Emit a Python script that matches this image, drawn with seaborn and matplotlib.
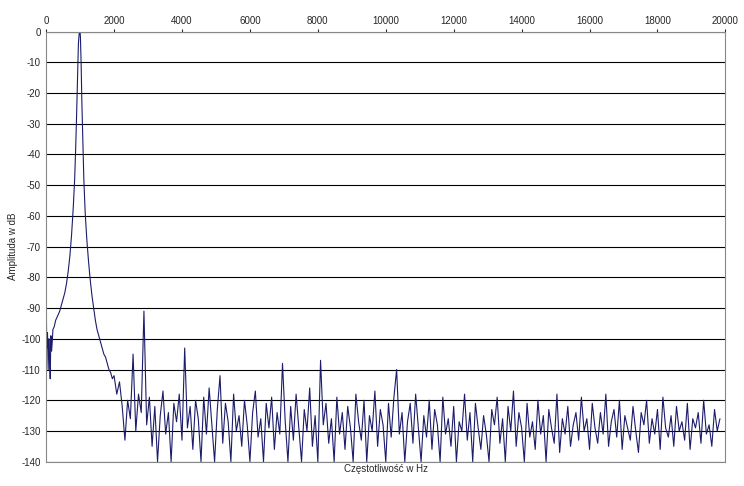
import numpy as np
import pandas as pd
import seaborn as sns
from matplotlib import pyplot as plt

# peak region
peak_freq = [0, 5, 10, 20, 40, 60, 80, 100, 120, 140, 160, 180, 200, 240, 280, 320, 360, 400,
             450, 500, 550, 600, 650, 700, 750, 800, 840, 870, 900, 930, 950, 970, 990, 1000,
             1010, 1030, 1050, 1080, 1110, 1150, 1200, 1250, 1300, 1350, 1400, 1450, 1500,
             1550, 1600, 1650, 1700, 1750, 1800, 1850, 1900, 1950]
peak_db = [-140, -60, -95, -103, -98, -110, -100, -106, -113, -99, -104, -101, -97, -96, -94,
           -93, -92, -91, -89, -87, -85, -82, -78, -73, -66, -57, -48, -38, -26, -12, -4, -1,
           0, 0, -2, -10, -22, -35, -48, -59, -68, -75, -81, -86, -90, -94, -97, -99, -101,
           -103, -105, -106, -108, -110, -111, -113]

# noise floor 2000..20000 Hz, 80 Hz steps
noise_db = [
    -112, -118, -114, -122, -133, -120, -126, -105, -130, -118, -124, -91, -128,
    -119, -135, -122, -140, -125, -117, -131, -124, -140, -121, -127, -118, -133,
    -103, -129, -122, -136, -120, -126, -140, -119, -131, -116, -128, -140, -123,
    -112, -134, -121, -127, -140, -118, -130, -125, -135, -120, -128, -140, -124,
    -117, -132, -126, -140, -121, -129, -119, -136, -124, -131, -108, -127, -140,
    -122, -133, -118, -129, -140, -123, -130, -116, -135, -125, -140, -107, -128,
    -121, -134, -126, -140, -119, -131, -124, -136, -122, -129, -140, -118, -127,
    -133, -120, -140, -125, -130, -117, -135, -123, -128, -140, -121, -132, -119,
    -110, -131, -124, -140, -127, -121, -134, -118, -129, -140, -125, -132, -120,
    -136, -123, -128, -140, -119, -131, -126, -135, -122, -140, -127, -130, -118,
    -133, -124, -140, -121, -129, -136, -125, -131, -140, -123, -128, -119, -134,
    -126, -140, -122, -130, -117, -135, -124, -129, -140, -121, -132, -127, -136,
    -120, -131, -125, -140, -123, -129, -134, -118, -137, -126, -131, -122, -135,
    -128, -124, -133, -119, -130, -126, -136, -121, -129, -134, -124, -131, -118,
    -135, -127, -123, -132, -120, -136, -125, -129, -133, -122, -130, -137, -124,
    -128, -120, -134, -126, -131, -123, -136, -119, -129, -132, -125, -135, -122,
    -130, -127, -133, -121, -136, -126, -129, -124, -134, -120, -131, -128, -135,
    -123, -130, -126,
]
noise_freq = np.arange(2000, 2000 + 80 * len(noise_db), 80)

df = pd.DataFrame({
    "freq": list(peak_freq) + list(noise_freq),
    "db": peak_db + noise_db,
})

sns.set_style("white")
plt.rcParams['font.family'] = ['Liberation Sans', 'DejaVu Sans']
plt.rcParams['axes.unicode_minus'] = False
fig, ax = plt.subplots(figsize=(7.44, 4.86), dpi=100)
fig.subplots_adjust(left=0.062, right=0.975, top=0.935, bottom=0.05)

sns.lineplot(data=df, x="freq", y="db", ax=ax, color="#1c1c6b", linewidth=0.8, sort=False)

ax.set_xlim(0, 20000)
ax.set_ylim(-140, 0)
ax.set_xticks(range(0, 20001, 2000))
ax.set_yticks(range(0, -141, -10))
ax.xaxis.tick_top()
ax.tick_params(labelsize=7, length=2, pad=2, direction="out")
ax.grid(axis="y", color="black", linewidth=0.8)
for s in ax.spines.values():
    s.set_color("#888888")
ax.set_xlabel("Częstotliwość w Hz", fontsize=7, labelpad=2)
ax.xaxis.set_label_position("bottom")
ax.set_ylabel("Amplituda w dB", fontsize=7, labelpad=2)
fig.savefig("out.png")
